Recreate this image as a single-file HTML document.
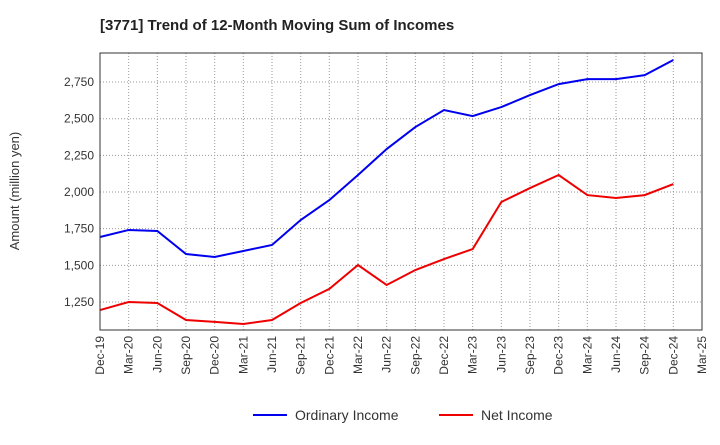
<!DOCTYPE html>
<html><head><meta charset="utf-8"><style>
body{margin:0;background:#fff;width:720px;height:440px;overflow:hidden}
svg text{font-family:"Liberation Sans",sans-serif}
</style></head><body>
<svg id="c" width="720" height="440" xmlns="http://www.w3.org/2000/svg">
<text x="100" y="30" font-size="15" font-weight="bold" fill="#222">[3771]  Trend of 12-Month Moving Sum of Incomes</text>
<text transform="translate(19,191) rotate(-90)" font-size="13" fill="#333" text-anchor="middle">Amount (million yen)</text>
<g id="grid"></g><g id="series"></g><g id="axes"></g>
<g>
<line x1="253" y1="415" x2="287" y2="415" stroke="#0000ee" stroke-width="2"/>
<text x="295" y="420" font-size="14" fill="#333">Ordinary Income</text>
<line x1="439" y1="415" x2="473" y2="415" stroke="#ee0000" stroke-width="2"/>
<text x="481" y="420" font-size="14" fill="#333">Net Income</text>
</g>
</svg>
<script>
const categories=["Dec-19","Mar-20","Jun-20","Sep-20","Dec-20","Mar-21","Jun-21","Sep-21","Dec-21","Mar-22","Jun-22","Sep-22","Dec-22","Mar-23","Jun-23","Sep-23","Dec-23","Mar-24","Jun-24","Sep-24","Dec-24","Mar-25"];
const ordinaryIncome=[1693,1741,1734,1577,1557,1598,1639,1809,1945,2116,2293,2443,2559,2518,2579,2661,2736,2770,2770,2797,2900];
const netIncome=[1195,1250,1243,1127,1114,1100,1127,1243,1339,1502,1366,1468,1543,1611,1932,2027,2116,1979,1959,1979,2054];
const yTicks=[1250,1500,1750,2000,2250,2500,2750];
const yTickLabels=["1,250","1,500","1,750","2,000","2,250","2,500","2,750"];
const L=100,R=702,T=53,B=330,yMin=1059,yMax=2948;
const xs=i=>L+i*(R-L)/(categories.length-1);
const ys=v=>B-(v-yMin)/(yMax-yMin)*(B-T);
const NS="http://www.w3.org/2000/svg";
function mk(t,a,p){const e=document.createElementNS(NS,t);for(const k in a)e.setAttribute(k,a[k]);p.appendChild(e);return e;}
const grid=document.getElementById('grid'),axes=document.getElementById('axes'),ser=document.getElementById('series');
categories.forEach((c,i)=>{
 const g=mk('line',{x1:xs(i),x2:xs(i),y1:T,y2:B,stroke:'#999','stroke-dasharray':'1,2'},grid);
 
 
 const t=mk('text',{transform:`translate(${xs(i)+4},${B+6}) rotate(-90)`,'font-size':12,fill:'#333','text-anchor':'end'},axes);
 t.textContent=c;
 
 
});
yTicks.forEach((v,i)=>{
 const g=mk('line',{x1:L,x2:R,y1:ys(v),y2:ys(v),stroke:'#999','stroke-dasharray':'1,2'},grid);
 
 
 const t=mk('text',{x:L-6,y:ys(v)+4,'font-size':12,fill:'#333','text-anchor':'end'},axes);
 t.textContent=yTickLabels[i];
 
 
});
const f=mk('rect',{x:L,y:T,width:R-L,height:B-T,fill:'none',stroke:'#333'},axes);


function line(d,col,name){
 const p=mk('polyline',{points:d.map((v,i)=>xs(i)+','+ys(v)).join(' '),fill:'none',stroke:col,'stroke-width':2},ser);
 
 
}
line(ordinaryIncome,'#0000ee','ordinary-income-line');
line(netIncome,'#ee0000','net-income-line');
</script>
</body></html>
